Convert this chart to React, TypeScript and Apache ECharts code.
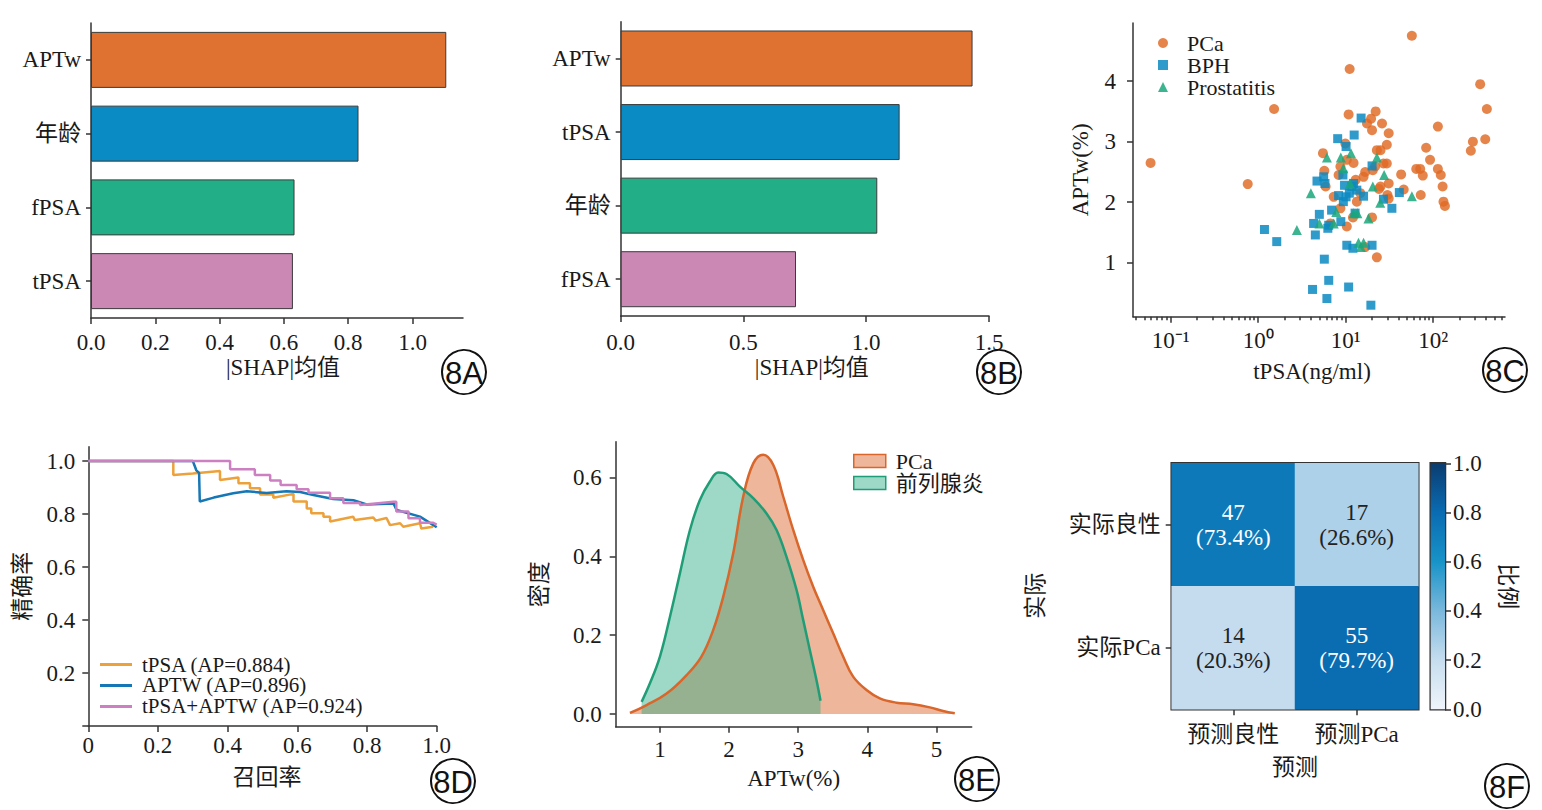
import React, { useEffect, useRef } from 'react';
import * as echarts from 'echarts';

const SERIF = "'Liberation Serif', 'Noto Sans CJK SC', serif";
const FS = 23;
const AX = '#333333';
const TXT = '#1a1a1a';

// ---------- 8A ----------
const A_FEATURES = ['APTw', '年龄', 'fPSA', 'tPSA'];
const A_VALUES = [1.105, 0.832, 0.633, 0.628];
const A_TICKS = [0, 0.2, 0.4, 0.6, 0.8, 1.0];
// ---------- 8B ----------
const B_FEATURES = ['APTw', 'tPSA', '年龄', 'fPSA'];
const B_VALUES = [1.433, 1.136, 1.045, 0.714];
const B_TICKS = [0, 0.5, 1.0, 1.5];
const BAR_COLORS = ['#df7230', '#0b8bc3', '#22ae87', '#cb88b5'];

// ---------- 8C (tPSA ng/ml, APTw %) ----------
const PCA_TPSA = [0.059, 0.76, 1.52, 11.1, 57, 344, 410, 284, 269, 393, 113, 83, 92, 113, 122, 128, 131, 136, 64, 71, 76, 72, 43, 46, 31, 30, 25, 31, 29.5, 27, 29.5, 25, 31, 26, 22, 19.5, 20, 17.5, 10.8, 21.7, 20.4, 16.7, 16, 13, 12.3, 10.3, 9.9, 8.7, 8.3, 5.5, 5.7, 5.9, 7.3, 13.4, 12.1, 10.3, 8.7, 6.7, 20, 22.7, 16.7, 14.7, 24, 22.7];
const PCA_APTW = [2.65, 2.30, 3.54, 4.20, 4.75, 3.95, 3.54, 3.00, 2.85, 3.04, 3.25, 2.90, 2.70, 2.55, 2.45, 2.26, 2.01, 1.94, 2.55, 2.55, 2.44, 2.12, 2.46, 2.21, 2.31, 2.12, 2.26, 2.06, 2.64, 2.64, 2.95, 2.86, 3.14, 3.30, 3.50, 3.38, 3.19, 3.30, 3.45, 2.59, 2.53, 2.50, 2.42, 2.37, 2.65, 2.70, 2.97, 2.59, 2.45, 2.81, 2.52, 2.26, 2.09, 2.01, 1.75, 1.60, 1.90, 1.65, 1.75, 1.09, 1.26, 2.15, 2.22, 2.86];
const BPH_TPSA = [1.18, 1.63, 4.18, 6.1, 6.4, 5.7, 10.8, 19.4, 10.3, 12.1, 20, 4.3, 4.5, 5.0, 6.25, 6.4, 4.7, 5.6, 5.8, 6.9, 8.3, 8.8, 9.4, 10.1, 9.7, 9.3, 8.1, 10.1, 12.5, 15, 12.3, 13.4, 16, 20, 27, 33.7, 41, 11, 11.8, 12.8];
const BPH_APTW = [1.55, 1.35, 0.56, 0.41, 0.71, 1.06, 0.60, 0.30, 1.29, 1.24, 1.29, 1.65, 1.46, 1.80, 1.57, 1.62, 2.35, 2.42, 2.31, 1.87, 2.11, 1.68, 2.01, 2.09, 2.28, 2.45, 3.05, 2.92, 3.11, 3.39, 2.31, 2.20, 2.10, 2.60, 2.05, 1.90, 2.16, 2.15, 2.26, 1.82];
const PROS_TPSA = [2.77, 4.0, 5.0, 6.1, 8.8, 11.5, 9.4, 7.8, 11.2, 12.3, 13.6, 14, 16, 14.9, 18.2, 20.4, 22.7, 27.5, 24.8, 57, 7.3];
const PROS_APTW = [1.54, 2.15, 1.65, 2.74, 2.74, 2.81, 2.56, 1.84, 2.31, 1.82, 1.82, 1.33, 1.33, 1.26, 1.73, 2.26, 2.74, 2.45, 1.99, 2.10, 1.65];
const C_MAJOR_DECADES = [-1, 0, 1, 2];
const C_MINOR_MULT = [2, 3, 4, 5, 6, 7, 8, 9];
const C_MINOR_DECADES = [-2, -1, 0, 1, 2];
const C_Y_TICKS = [1, 2, 3, 4];

// ---------- 8D (recall, precision) ----------
const PR_TPSA = [[0, 1], [0.244, 1], [0.244, 0.947], [0.30, 0.953], [0.378, 0.962], [0.378, 0.928], [0.431, 0.938], [0.431, 0.916], [0.464, 0.916], [0.464, 0.897], [0.493, 0.897], [0.493, 0.874], [0.531, 0.874], [0.531, 0.861], [0.589, 0.876], [0.589, 0.847], [0.627, 0.847], [0.627, 0.821], [0.64, 0.821], [0.64, 0.803], [0.675, 0.803], [0.675, 0.79], [0.694, 0.79], [0.694, 0.772], [0.76, 0.79], [0.765, 0.777], [0.818, 0.787], [0.825, 0.775], [0.856, 0.785], [0.866, 0.758], [0.895, 0.765], [0.904, 0.752], [0.952, 0.765], [0.956, 0.745], [0.99, 0.752]];
const PR_APTW = [[0, 1], [0.30, 1], [0.31, 0.965], [0.318, 0.955], [0.32, 0.847], [0.36, 0.862], [0.416, 0.878], [0.455, 0.886], [0.512, 0.879], [0.569, 0.886], [0.608, 0.883], [0.646, 0.872], [0.703, 0.857], [0.761, 0.852], [0.799, 0.836], [0.876, 0.840], [0.885, 0.815], [0.952, 0.79], [0.97, 0.775], [1.0, 0.75]];
const PR_BOTH = [[0, 1], [0.407, 1], [0.407, 0.969], [0.478, 0.969], [0.478, 0.947], [0.522, 0.947], [0.522, 0.926], [0.552, 0.926], [0.552, 0.909], [0.598, 0.909], [0.598, 0.893], [0.632, 0.893], [0.632, 0.88], [0.694, 0.88], [0.694, 0.859], [0.732, 0.859], [0.732, 0.842], [0.78, 0.842], [0.78, 0.834], [0.876, 0.846], [0.884, 0.846], [0.884, 0.809], [0.919, 0.809], [0.919, 0.784], [0.952, 0.784], [0.952, 0.767], [0.99, 0.767], [1.0, 0.76]];
const PR_NAMES = ['tPSA (AP=0.884)', 'APTW (AP=0.896)', 'tPSA+APTW (AP=0.924)'];
const PR_COLORS = ['#eda13a', '#1577b5', '#cc80c2'];
const D_TICKS = [0, 0.2, 0.4, 0.6, 0.8, 1.0];

// ---------- 8E (APTw %, density) ----------
const DEN_PCA_X = [0.566, 0.807, 1.096, 1.386, 1.60, 1.77, 1.916, 2.06, 2.205, 2.35, 2.494, 2.64, 2.783, 2.928, 3.072, 3.217, 3.361, 3.506, 3.65, 3.795, 3.988, 4.181, 4.422, 4.663, 4.904, 5.096, 5.265];
const DEN_PCA_Y = [0.003, 0.023, 0.052, 0.099, 0.146, 0.213, 0.298, 0.408, 0.552, 0.636, 0.658, 0.632, 0.552, 0.467, 0.391, 0.323, 0.264, 0.205, 0.146, 0.095, 0.061, 0.040, 0.029, 0.025, 0.017, 0.008, 0.002];
const DEN_PROS_X = [0.735, 0.855, 1.0, 1.145, 1.289, 1.434, 1.578, 1.723, 1.843, 1.964, 2.157, 2.349, 2.542, 2.687, 2.831, 2.976, 3.072, 3.169, 3.265, 3.323];
const DEN_PROS_Y = [0.031, 0.078, 0.146, 0.247, 0.357, 0.467, 0.543, 0.590, 0.613, 0.609, 0.577, 0.548, 0.509, 0.467, 0.399, 0.315, 0.239, 0.162, 0.086, 0.034];
const E_X_TICKS = [1, 2, 3, 4, 5];
const E_Y_TICKS = [0, 0.2, 0.4, 0.6];
const E_FILL_PCA = 'rgba(222,110,55,0.5)';
const E_FILL_PROS = 'rgba(40,170,130,0.45)';

// ---------- 8F ----------
const CM_COLS = ['预测良性', '预测PCa'];
const CM_ROWS = ['实际良性', '实际PCa'];
const CM_COUNTS = [[47, 17], [14, 55]];
const CB_TICKS = [0, 0.2, 0.4, 0.6, 0.8, 1.0];
const CMAP = ['#eff5fb', '#c6ddef', '#7ab8dc', '#1793c8', '#0a6cb2', '#0b3c70'];

const PANEL_TAGS = [
  { t: '8A', x: 464, y: 372 },
  { t: '8B', x: 999, y: 372 },
  { t: '8C', x: 1505, y: 370 },
  { t: '8D', x: 453, y: 781 },
  { t: '8E', x: 977, y: 779 },
  { t: '8F', x: 1507, y: 786 },
];

const SUP: Record<string, string> = { '-': '⁻', '0': '⁰', '1': '¹', '2': '²', '3': '³' };

const txt = { color: TXT, fontSize: FS, fontFamily: SERIF };
const line = (show = true) => ({ show, onZero: false, lineStyle: { color: AX, width: 1.5 } });
const tick = (vals: number[] | null, len = 6) => {
  const o: any = { show: true, length: len, lineStyle: { color: AX, width: 1.5 } };
  if (vals) o.customValues = vals;
  return o;
};
const lab = (vals: number[] | null, fmt: any, margin: number) => {
  const o: any = { show: true, margin, formatter: fmt, ...txt };
  if (vals) o.customValues = vals;
  return o;
};
const nameStyle = (padding?: number[]) => ({ ...txt, padding: padding || [0, 0, 0, 0] });
const f1 = (v: number) => Number(v).toFixed(1);

function buildOption(): any {
  const minor: number[] = [];
  C_MINOR_DECADES.forEach((d) => C_MINOR_MULT.forEach((m) => minor.push(Math.log10(m) + d)));

  const heatData: any[] = [];
  CM_COUNTS.forEach((row, r) => {
    const s = row.reduce((a, b) => a + b, 0);
    row.forEach((c, k) => {
      const ratio = c / s;
      heatData.push({ value: [k, r, ratio, c], label: { color: ratio > 0.5 ? '#ffffff' : '#222222' } });
    });
  });

  const grads = CMAP.map((c, i) => ({ offset: i / (CMAP.length - 1), color: c }));

  const series: any[] = [
    {
      type: 'bar', xAxisIndex: 0, yAxisIndex: 0, barWidth: 56,
      data: A_VALUES.map((v, i) => ({ value: v, itemStyle: { color: BAR_COLORS[i] } })),
      itemStyle: { borderColor: '#3a3a3a', borderWidth: 1 },
    },
    {
      type: 'bar', xAxisIndex: 1, yAxisIndex: 1, barWidth: 56,
      data: B_VALUES.map((v, i) => ({ value: v, itemStyle: { color: BAR_COLORS[i] } })),
      itemStyle: { borderColor: '#3a3a3a', borderWidth: 1 },
    },
    {
      name: 'PCa', type: 'scatter', xAxisIndex: 2, yAxisIndex: 2, symbol: 'circle', symbolSize: 10,
      itemStyle: { color: '#df6a24', opacity: 0.82 },
      data: PCA_TPSA.map((x, i) => [Math.log10(x), PCA_APTW[i]]),
    },
    {
      name: 'BPH', type: 'scatter', xAxisIndex: 2, yAxisIndex: 2, symbol: 'rect', symbolSize: 9,
      itemStyle: { color: '#0a89c2', opacity: 0.85 },
      data: BPH_TPSA.map((x, i) => [Math.log10(x), BPH_APTW[i]]),
    },
    {
      name: 'Prostatitis', type: 'scatter', xAxisIndex: 2, yAxisIndex: 2, symbol: 'triangle', symbolSize: 10,
      itemStyle: { color: '#1aa77b', opacity: 0.85 },
      data: PROS_TPSA.map((x, i) => [Math.log10(x), PROS_APTW[i]]),
    },
    ...[PR_TPSA, PR_APTW, PR_BOTH].map((d, i) => ({
      name: PR_NAMES[i], type: 'line', xAxisIndex: 4, yAxisIndex: 3, symbol: 'none', showSymbol: false,
      lineStyle: { color: PR_COLORS[i], width: 2.5 }, itemStyle: { color: PR_COLORS[i] },
      data: d,
    })),
    {
      name: 'PCa', type: 'line', xAxisIndex: 5, yAxisIndex: 4, symbol: 'none', showSymbol: false, smooth: 0.4,
      lineStyle: { color: '#d9662a', width: 2.5 }, itemStyle: { color: '#d9662a' },
      areaStyle: { color: E_FILL_PCA, opacity: 1 },
      data: DEN_PCA_X.map((x, i) => [x, DEN_PCA_Y[i]]),
    },
    {
      name: '前列腺炎', type: 'line', xAxisIndex: 5, yAxisIndex: 4, symbol: 'none', showSymbol: false, smooth: 0.4,
      lineStyle: { color: '#1f9d77', width: 2.5 }, itemStyle: { color: '#1f9d77' },
      areaStyle: { color: E_FILL_PROS, opacity: 1 },
      data: DEN_PROS_X.map((x, i) => [x, DEN_PROS_Y[i]]),
    },
    {
      type: 'heatmap', xAxisIndex: 6, yAxisIndex: 5, data: heatData,
      label: {
        show: true, fontSize: FS, fontFamily: SERIF, lineHeight: 25,
        formatter: (p: any) => `${p.value[3]}\n(${(p.value[2] * 100).toFixed(1)}%)`,
      },
      emphasis: { disabled: true },
    },
    {
      type: 'custom', xAxisIndex: 7, yAxisIndex: 6, data: [[0.5, 0.5]], silent: true,
      renderItem: (_p: any, api: any) => {
        const p0 = api.coord([0, 0]);
        const p1 = api.coord([1, 1]);
        return {
          type: 'rect',
          shape: { x: p0[0], y: p1[1], width: p1[0] - p0[0], height: p0[1] - p1[1] },
          style: { fill: new echarts.graphic.LinearGradient(0, 1, 0, 0, grads) },
        };
      },
    },
  ];
  const heatIndex = series.findIndex((s) => s.type === 'heatmap');

  const graphic: any[] = [];
  PANEL_TAGS.forEach((p) => {
    graphic.push({ type: 'circle', shape: { cx: p.x, cy: p.y, r: 22 }, style: { fill: 'none', stroke: '#111', lineWidth: 2 }, z: 100 });
    graphic.push({
      type: 'text', x: p.x, y: p.y + 1, z: 101,
      style: { text: p.t, fontSize: 31, fontFamily: "'Liberation Sans Narrow', 'Liberation Sans', sans-serif", fill: '#111', align: 'center', verticalAlign: 'middle' },
    });
  });

  return {
    animation: false,
    backgroundColor: '#ffffff',
    textStyle: { fontFamily: SERIF },
    grid: [
      { left: 91, top: 23, width: 372, height: 295 },
      { left: 620.7, top: 21.7, width: 368.3, height: 294.3 },
      { left: 1133, top: 23, width: 372, height: 293.7 },
      { left: 88.3, top: 446.7, width: 348.4, height: 279.3 },
      { left: 615.7, top: 441.7, width: 356, height: 285 },
      { left: 1171.7, top: 463.3, width: 246.6, height: 246, show: true, borderColor: AX, borderWidth: 2.5 },
      { left: 1430.7, top: 463.3, width: 14.3, height: 246, show: true, borderColor: AX, borderWidth: 2.5 },
    ],
    xAxis: [
      {
        gridIndex: 0, type: 'value', min: 0, max: 1.157, axisLine: line(), axisTick: tick(A_TICKS),
        axisLabel: lab(A_TICKS, f1, 13), splitLine: { show: false },
        name: '|SHAP|均值', nameLocation: 'middle', nameGap: 38, nameTextStyle: nameStyle([0, 0, 0, 12]),
      },
      {
        gridIndex: 1, type: 'value', min: 0, max: 1.5, axisLine: line(), axisTick: tick(B_TICKS),
        axisLabel: lab(B_TICKS, f1, 15), splitLine: { show: false },
        name: '|SHAP|均值', nameLocation: 'middle', nameGap: 40, nameTextStyle: nameStyle([0, 0, 0, 14]),
      },
      {
        gridIndex: 2, type: 'value', min: -1.43, max: 2.82, position: 'bottom', axisLine: line(), axisTick: tick(C_MAJOR_DECADES, 6),
        axisLabel: lab(C_MAJOR_DECADES, (v: number) => '10' + String(Math.round(v)).split('').map((c) => SUP[c] || c).join(''), 12),
        splitLine: { show: false },
        name: 'tPSA(ng/ml)', nameLocation: 'middle', nameGap: 43, nameTextStyle: nameStyle([0, 14, 0, 0]),
      },
      {
        gridIndex: 2, type: 'value', min: -1.43, max: 2.82, position: 'bottom', axisLine: { show: false, onZero: false },
        axisTick: tick(minor, 3.5), axisLabel: { show: false }, splitLine: { show: false },
      },
      {
        gridIndex: 3, type: 'value', min: 0, max: 1, axisLine: line(), axisTick: tick(D_TICKS),
        axisLabel: lab(D_TICKS, (v: number) => (v === 0 ? '0' : f1(v)), 8), splitLine: { show: false },
        name: '召回率', nameLocation: 'middle', nameGap: 40, nameTextStyle: nameStyle([0, 0, 0, 9]),
      },
      {
        gridIndex: 4, type: 'value', min: 0.36, max: 5.51, axisLine: line(), axisTick: tick(E_X_TICKS),
        axisLabel: lab(E_X_TICKS, (v: number) => String(v), 11), splitLine: { show: false },
        name: 'APTw(%)', nameLocation: 'middle', nameGap: 40, nameTextStyle: nameStyle(),
      },
      {
        gridIndex: 5, type: 'category', data: CM_COLS, axisLine: { show: false, onZero: false },
        axisTick: { show: true, alignWithLabel: true, length: 6, lineStyle: { color: AX, width: 1.5 } },
        axisLabel: { ...txt, margin: 14 }, splitLine: { show: false },
        name: '预测', nameLocation: 'middle', nameGap: 47, nameTextStyle: nameStyle(),
      },
      { gridIndex: 6, type: 'value', min: 0, max: 1, show: false },
    ],
    yAxis: [
      {
        gridIndex: 0, type: 'category', data: A_FEATURES, inverse: true, axisLine: line(),
        axisTick: { show: true, alignWithLabel: true, length: 5, lineStyle: { color: AX, width: 1.5 } },
        axisLabel: { ...txt, margin: 10 }, splitLine: { show: false },
      },
      {
        gridIndex: 1, type: 'category', data: B_FEATURES, inverse: true, axisLine: line(),
        axisTick: { show: true, alignWithLabel: true, length: 5, lineStyle: { color: AX, width: 1.5 } },
        axisLabel: { ...txt, margin: 10 }, splitLine: { show: false },
      },
      {
        gridIndex: 2, type: 'value', min: 0.11, max: 4.96, axisLine: line(), axisTick: tick(C_Y_TICKS, 6),
        axisLabel: lab(C_Y_TICKS, (v: number) => String(v), 17), splitLine: { show: false },
        name: 'APTw(%)', nameLocation: 'middle', nameGap: 41, nameTextStyle: nameStyle(),
      },
      {
        gridIndex: 3, type: 'value', min: 0, max: 1.054, axisLine: line(), axisTick: tick(D_TICKS),
        axisLabel: lab(D_TICKS.slice(1), f1, 13), splitLine: { show: false },
        name: '精确率', nameLocation: 'middle', nameGap: 54, nameTextStyle: nameStyle(),
      },
      {
        gridIndex: 4, type: 'value', min: -0.032, max: 0.691, axisLine: line(), axisTick: tick(E_Y_TICKS),
        axisLabel: lab(E_Y_TICKS, f1, 14), splitLine: { show: false },
        name: '密度', nameLocation: 'middle', nameGap: 65, nameTextStyle: nameStyle(),
      },
      {
        gridIndex: 5, type: 'category', data: CM_ROWS, inverse: true, axisLine: { show: false, onZero: false },
        axisTick: { show: true, alignWithLabel: true, length: 6, lineStyle: { color: AX, width: 1.5 } },
        axisLabel: { ...txt, margin: 11 }, splitLine: { show: false },
        name: '实际', nameLocation: 'middle', nameGap: 125, nameTextStyle: nameStyle([0, 19, 0, 0]),
      },
      {
        gridIndex: 6, type: 'value', min: 0, max: 1, position: 'right', axisLine: { show: false, onZero: false },
        axisTick: tick(CB_TICKS, 6), axisLabel: lab(CB_TICKS, f1, 8), splitLine: { show: false },
        name: '比例', nameLocation: 'middle', nameRotate: -90, nameGap: 51, nameTextStyle: nameStyle(),
      },
    ],
    visualMap: [
      { type: 'continuous', show: false, min: 0, max: 1, dimension: 2, seriesIndex: heatIndex, inRange: { color: CMAP } },
    ],
    legend: [
      {
        left: 1158, top: 32, padding: 0, orient: 'vertical', itemWidth: 10, itemHeight: 10, itemGap: 0, selectedMode: false,
        textStyle: { ...txt, fontSize: 22, lineHeight: 22, padding: [0, 0, 0, 14] },
        data: [
          { name: 'PCa', icon: 'circle', itemStyle: { color: '#df6a24', opacity: 0.82 } },
          { name: 'BPH', icon: 'rect', itemStyle: { color: '#0a89c2', opacity: 0.85 } },
          { name: 'Prostatitis', icon: 'triangle', itemStyle: { color: '#1aa77b', opacity: 0.85 } },
        ],
      },
      {
        left: 100, top: 654, padding: 0, orient: 'vertical', itemWidth: 32, itemHeight: 3, itemGap: 0, selectedMode: false,
        textStyle: { ...txt, fontSize: 21, lineHeight: 20, padding: [0, 0, 0, 5] },
        data: PR_NAMES.map((n, i) => ({ name: n, icon: 'rect', itemStyle: { color: PR_COLORS[i], borderWidth: 0 } })),
      },
      {
        left: 853, top: 450, padding: 0, orient: 'vertical', itemWidth: 32, itemHeight: 13, itemGap: 0, selectedMode: false,
        textStyle: { ...txt, fontSize: 22, lineHeight: 22, padding: [0, 0, 0, 5] },
        data: [
          { name: 'PCa', icon: 'rect', itemStyle: { color: E_FILL_PCA, borderColor: '#d9662a', borderWidth: 1.5, opacity: 1 } },
          { name: '前列腺炎', icon: 'rect', itemStyle: { color: E_FILL_PROS, borderColor: '#1f9d77', borderWidth: 1.5, opacity: 1 } },
        ],
      },
    ],
    series,
    graphic,
  };
}

export default function App() {
  const ref = useRef<HTMLDivElement>(null);
  useEffect(() => {
    document.body.style.margin = '0';
    const chart = echarts.init(ref.current as HTMLDivElement, null, { renderer: 'svg' });
    chart.setOption(buildOption());
    return () => chart.dispose();
  }, []);
  return (
    <div
      ref={ref}
      style={{ position: 'absolute', left: 0, top: 0, width: 1542, height: 810, background: '#ffffff' }}
    />
  );
}
